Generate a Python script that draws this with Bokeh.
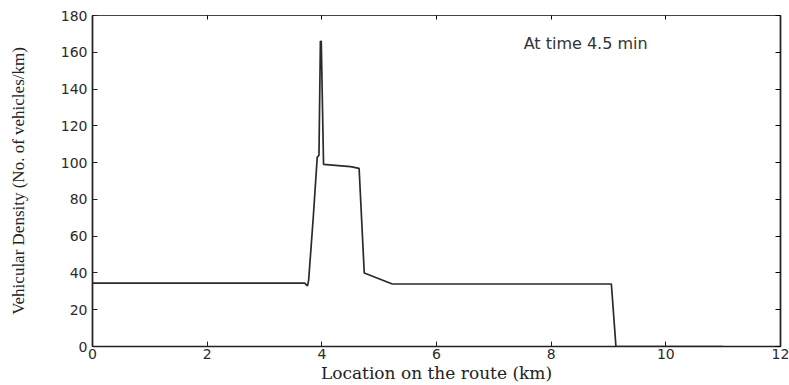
from bokeh.plotting import figure
from bokeh.models import LinearAxis, Label, FixedTicker, Range1d
from bokeh.embed import file_html
from bokeh.resources import INLINE

# Data
location_km = [0.0, 3.70, 3.75, 3.77, 3.85, 3.92, 3.95, 3.975, 3.99, 4.03,
               4.50, 4.65, 4.74, 5.23, 9.05, 9.13, 11.0]
density = [34.5, 34.5, 33.0, 36.0, 70.0, 103.0, 104.0, 166.0, 166.0, 99.0,
           97.8, 96.9, 40.0, 34.0, 34.0, 0.0, 0.0]

x_ticks = [0, 2, 4, 6, 8, 10, 12]
y_ticks = [0, 20, 40, 60, 80, 100, 120, 140, 160, 180]
annotation_text = "At time 4.5 min"
annotation_x = 7.52
annotation_y = 165

p = figure(width=789, height=385, output_backend="svg", toolbar_location=None,
           x_range=Range1d(0, 12), y_range=Range1d(0, 180),
           min_border_left=92, min_border_top=15, min_border_right=9,
           min_border_bottom=38)
p.background_fill_color = "white"
p.border_fill_color = "white"
p.outline_line_color = "#222222"
p.outline_line_width = 1.2
p.xgrid.visible = False
p.ygrid.visible = False

p.line(location_km, density, line_color="#2a2a2a", line_width=1.7)

for ax in (p.xaxis[0], p.yaxis[0]):
    ax.major_tick_in = 5
    ax.major_tick_out = 0
    ax.minor_tick_line_color = None
    ax.axis_line_color = "#222222"
    ax.axis_line_width = 1.6
    ax.major_tick_line_color = "#222222"
    ax.major_label_text_font = "DejaVu Sans"
    ax.major_label_text_font_size = "14px"
    ax.major_label_text_color = "#2a2a2a"

p.xaxis.ticker = FixedTicker(ticks=x_ticks)
p.yaxis.ticker = FixedTicker(ticks=y_ticks)
p.xaxis.major_label_standoff = 2
p.yaxis.major_label_standoff = 5

p.xaxis.axis_label = "Location on the route (km)"
p.xaxis.axis_label_text_font = "DejaVu Serif"
p.xaxis.axis_label_text_font_size = "17px"
p.xaxis.axis_label_text_font_style = "normal"
p.xaxis.axis_label_text_color = "#222222"
p.xaxis.axis_label_standoff = 1

p.yaxis.axis_label = "Vehicular Density (No. of vehicles/km)"
p.yaxis.axis_label_text_font = "Liberation Serif"
p.yaxis.axis_label_text_font_size = "17px"
p.yaxis.axis_label_text_font_style = "normal"
p.yaxis.axis_label_text_color = "#222222"
p.yaxis.axis_label_standoff = 30

# Ticks on top and right (inside), without labels
top = LinearAxis(ticker=FixedTicker(ticks=x_ticks), major_tick_in=4, major_tick_out=0,
                 minor_tick_line_color=None, major_label_text_font_size="1px",
                 major_label_text_color=None,
                 major_label_standoff=0, axis_line_color="#444444", axis_line_width=1.0)
right = LinearAxis(ticker=FixedTicker(ticks=y_ticks), major_tick_in=5, major_tick_out=0,
                   minor_tick_line_color=None, major_label_text_font_size="1px",
                   major_label_text_color=None,
                   major_label_standoff=0, axis_line_color="#222222", axis_line_width=1.6)
p.add_layout(top, "above")
p.add_layout(right, "right")

p.add_layout(Label(x=annotation_x, y=annotation_y, text=annotation_text,
                   text_font="DejaVu Sans", text_font_size="16px",
                   text_color="#333333", text_baseline="middle", text_align="left"))

open("out.html", "w").write(file_html(p, INLINE))
